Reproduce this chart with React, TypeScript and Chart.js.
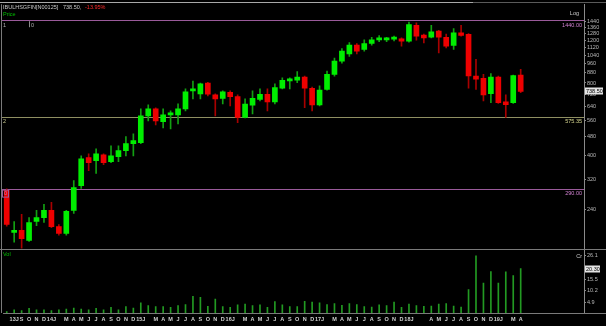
import React, { useEffect, useRef } from "react";
import { Chart, registerables } from "chart.js";

Chart.register(...registerables);

// Monthly candles, Jul 2013 .. Apr 2019
const monthLabels = [
  "", "13J", "S", "O", "N", "D",
  "14J", "", "M", "A", "M", "J", "J", "A", "S", "O", "N", "D",
  "15J", "", "M", "A", "M", "J", "J", "A", "S", "O", "N", "D",
  "16J", "", "M", "A", "M", "J", "J", "A", "S", "O", "N", "D",
  "17J", "", "M", "A", "M", "J", "J", "A", "S", "O", "N", "D",
  "18J", "", "", "A", "M", "J", "J", "A", "S", "O", "N", "D",
  "19J", "", "M", "A",
];
const emptySlots = 8;

const opens = [
  288, 193, 197, 179, 214, 222, 238, 204, 191, 238,
  301, 393, 382, 404, 378, 397, 420, 449, 453, 585,
  625, 553, 591, 591, 625, 742, 721, 800, 714, 690,
  732, 703, 576, 648, 685, 719, 668, 761, 816, 821,
  847, 761, 650, 752, 869, 985, 1056, 1147, 1102, 1165,
  1205, 1205, 1215, 1218, 1191, 1386, 1261, 1236, 1310, 1236,
  1144, 1289, 1270, 855, 837, 723, 847, 668, 664, 863,
];
const highs = [
  292, 214, 229, 222, 238, 252, 257, 208, 238, 316,
  400, 408, 428, 408, 440, 440, 480, 493, 625, 650,
  632, 625, 614, 656, 756, 815, 800, 805, 721, 742,
  742, 714, 688, 742, 756, 756, 793, 841, 841, 891,
  855, 770, 778, 897, 1014, 1110, 1175, 1165, 1205, 1236,
  1256, 1236, 1250, 1230, 1430, 1417, 1274, 1386, 1322, 1274,
  1344, 1386, 1280, 1002, 869, 874, 855, 714, 862, 911,
];
const lows = [
  205, 176, 166, 177, 206, 212, 202, 188, 188, 231,
  293, 347, 338, 368, 375, 378, 400, 400, 449, 558,
  537, 522, 517, 542, 614, 688, 688, 707, 585, 656,
  643, 549, 574, 596, 675, 614, 656, 756, 756, 802,
  633, 614, 643, 748, 854, 967, 1030, 1056, 1083, 1147,
  1185, 1185, 1195, 1136, 1180, 1202, 1172, 1229, 1066, 1118,
  1101, 1249, 761, 752, 675, 664, 658, 576, 658, 730,
];
const closes = [
  208, 197, 182, 212, 222, 238, 204, 191, 236, 296,
  389, 375, 408, 375, 400, 420, 449, 462, 585, 625,
  558, 591, 596, 625, 735, 756, 793, 720, 688, 735,
  703, 576, 654, 692, 719, 668, 765, 821, 826, 847,
  761, 650, 747, 869, 986, 1084, 1147, 1083, 1165, 1205,
  1225, 1215, 1225, 1191, 1396, 1249, 1229, 1301, 1236, 1136,
  1289, 1257, 855, 829, 714, 847, 664, 651, 858, 738.5,
];
const volumes = [
  0.6, 1.5, 1.1, 2.1, 1.5, 1.5, 1.1, 1.4, 1.8, 2.3,
  1.8, 1.5, 2.1, 1.5, 2.6, 1.5, 2.9, 2.3, 4.6, 3.4,
  2.9, 2.9, 2.6, 3.4, 3.8, 7.6, 7.2, 3.1, 6.4, 2.9,
  2.6, 3.7, 4.1, 3.4, 3.7, 2.6, 5.2, 3.7, 2.9, 2.9,
  5.3, 5.0, 4.6, 3.8, 4.3, 3.5, 4.3, 3.8, 2.9, 2.7,
  3.7, 3.4, 5.0, 2.6, 4.1, 3.4, 3.1, 3.2, 4.1, 4.3,
  3.2, 2.7, 10.7, 26.1, 13.7, 18.9, 13.7, 18.8, 17.1, 20.3,
];

const priceTicks = [1440, 1360, 1280, 1200, 1120, 1040, 960, 880, 800, 720, 640, 560, 480, 400, 320, 240];
const volumeTicks = [4.9, 10.2, 15.5, 26.1];
const levelHigh = 1440;
const levelMid = 575.35;
const levelLow = 290;
const lastClose = 738.5;
const lastVolume = 20.3;
const titleSymbol = "IBULHSGFIN[N00125]";
const titlePrice = "738.50,";
const titleChange = "-13.95%";

const FONT = '"Liberation Sans", Arial, sans-serif';
const AXIS_W = 22;

export default function App() {
  const ref = useRef<HTMLCanvasElement>(null);

  useEffect(() => {
    document.body.style.margin = "0";
    document.body.style.background = "#000";
    const canvas = ref.current!;
    const labels = [...monthLabels, ...Array(emptySlots).fill("")];
    const up = closes.map((c, i) => c >= opens[i]);

    const overlay = {
      id: "overlay",
      beforeDraw(chart: any) {
        const ctx = chart.ctx;
        ctx.save();
        ctx.fillStyle = "#000";
        ctx.fillRect(0, 0, chart.width, chart.height);
        ctx.restore();
      },
      beforeDatasetsDraw(chart: any) {
        const ctx = chart.ctx;
        const { right } = chart.chartArea;
        const ys = chart.scales.y;
        ctx.save();
        ctx.lineWidth = 1;
        const line = (v: number, color: string) => {
          const y = Math.round(ys.getPixelForValue(v)) - 0.5;
          ctx.strokeStyle = color;
          ctx.beginPath();
          ctx.moveTo(2, y);
          ctx.lineTo(right, y);
          ctx.stroke();
        };
        line(levelHigh, "#9a5a9a");
        line(levelMid, "#8f8f62");
        line(levelLow, "#9a5a9a");
        ctx.restore();
      },
      afterDraw(chart: any) {
        const ctx = chart.ctx;
        const { right, top, bottom } = chart.chartArea;
        const ys = chart.scales.y;
        const yv = chart.scales.yv;
        ctx.save();
        ctx.lineWidth = 1;
        // frame lines
        ctx.strokeStyle = "#5a5a5a";
        ctx.beginPath();
        ctx.moveTo(0, 2.5); ctx.lineTo(606, 2.5);
        ctx.stroke();
        ctx.strokeStyle = "#a8a8a8";
        ctx.beginPath();
        ctx.moveTo(0, 2.5); ctx.lineTo(473, 2.5);
        ctx.stroke();
        ctx.strokeStyle = "#7a7a7a";
        ctx.beginPath();
        ctx.moveTo(1.5, top); ctx.lineTo(1.5, bottom);
        ctx.stroke();
        const sep = Math.round(yv.top) - 0.5;
        ctx.beginPath();
        ctx.moveTo(0, sep); ctx.lineTo(606, sep);
        ctx.stroke();
        ctx.beginPath();
        ctx.moveTo(right, Math.round(bottom) + 0.5); ctx.lineTo(606, Math.round(bottom) + 0.5);
        ctx.stroke();

        // title
        ctx.textBaseline = "middle";
        ctx.textAlign = "left";
        ctx.font = `5.5px ${FONT}`;
        ctx.fillStyle = "#c8c8c8";
        ctx.fillText(titleSymbol, 3, 7);
        ctx.fillText(titlePrice, 63, 7);
        ctx.fillStyle = "#ff2a2a";
        ctx.fillText(titleChange, 85, 7);
        ctx.fillStyle = "#00c000";
        ctx.fillText("Price", 3, 14);
        ctx.fillText("Vol", 3, Math.round(yv.top) + 4);

        // level tags (left)
        const yHigh = ys.getPixelForValue(levelHigh);
        const yMid = ys.getPixelForValue(levelMid);
        const yLow = ys.getPixelForValue(levelLow);
        ctx.fillStyle = "#b0b0b0";
        ctx.fillText("1", 3, yHigh + 4);
        ctx.fillText("0", 31, yHigh + 4);
        ctx.strokeStyle = "#8a8a8a";
        ctx.beginPath();
        ctx.moveTo(29.5, yHigh); ctx.lineTo(29.5, yHigh + 6);
        ctx.stroke();
        ctx.fillStyle = "#c8c890";
        ctx.fillText("2", 3, yMid + 4);
        ctx.strokeStyle = "#9a5a9a";
        ctx.strokeRect(2.5, yLow + 0.5, 6, 7);
        ctx.fillStyle = "#c080c0";
        ctx.fillText("0", 4, yLow + 4);

        // level values (right)
        ctx.textAlign = "right";
        ctx.fillStyle = "#d080d0";
        ctx.fillText("1440.00", right - 2, yHigh + 4);
        ctx.fillText("290.00", right - 2, yLow + 4);
        ctx.fillStyle = "#d8d890";
        ctx.fillText("575.35", right - 2, yMid + 4);
        ctx.fillStyle = "#c8c8c8";
        ctx.fillText("Log", right - 5, 13);
        ctx.fillText("Cr", right - 2, Math.round(yv.top) + 6);

        // last value boxes
        const box = (y: number, text: string, w: number) => {
          ctx.fillStyle = "#e4e4e4";
          ctx.fillRect(right + 1, Math.round(y) - 3.5, w, 7);
          ctx.fillStyle = "#000";
          ctx.textAlign = "left";
          ctx.fillText(text, right + 2, Math.round(y));
        };
        box(ys.getPixelForValue(lastClose), "738.50", 18);
        box(yv.getPixelForValue(lastVolume), "20.30", 15);
        ctx.restore();
      },
    };

    const axisCommon = {
      position: "right" as const,
      stack: "panels",
      grid: { display: true, drawOnChartArea: false, drawTicks: true, tickLength: 2, color: "#8a8a8a" },
      border: { display: true, color: "#8a8a8a" },
      afterFit: (s: any) => { s.width = AXIS_W; },
    };

    const chart = new Chart(canvas, {
      type: "bar",
      data: {
        labels,
        datasets: [
          {
            label: "wick",
            data: lows.map((l, i) => [l, highs[i]]) as any,
            backgroundColor: up.map((u) => (u ? "#12a012" : "#a80000")),
            barThickness: 1,
            grouped: false,
            yAxisID: "y",
            order: 2,
          },
          {
            label: "body",
            data: opens.map((o, i) => [o, closes[i]]) as any,
            backgroundColor: up.map((u) => (u ? "#00ee00" : "#ee0000")),
            barThickness: 5,
            minBarLength: 2,
            grouped: false,
            yAxisID: "y",
            order: 1,
          },
          {
            label: "Vol",
            data: volumes,
            backgroundColor: "#229a22",
            barThickness: 1,
            grouped: false,
            yAxisID: "yv",
            order: 3,
          },
        ],
      },
      options: {
        responsive: false,
        animation: false,
        devicePixelRatio: 1,
        layout: { padding: { left: 3, top: 3, right: 0, bottom: 0 } },
        plugins: { legend: { display: false }, tooltip: { enabled: false } },
        scales: {
          x: {
            type: "category",
            offset: true,
            grid: { display: false, drawTicks: false },
            border: { display: true, color: "#7a7a7a" },
            ticks: {
              autoSkip: false,
              maxRotation: 0,
              minRotation: 0,
              color: "#cfcfcf",
              padding: 3,
              font: { size: 5.5, weight: "bold", family: FONT },
            },
            afterFit: (s: any) => { s.height = 13; },
          },
          y: {
            ...axisCommon,
            type: "logarithmic",
            stackWeight: 246.3,
            min: 163.9,
            max: 1691.8,
            ticks: {
              autoSkip: false,
              color: "#b8b8b8",
              padding: 1,
              font: { size: 5.5, family: FONT },
              callback: (v: any) => String(v),
            },
            afterBuildTicks: (s: any) => { s.ticks = priceTicks.map((v) => ({ value: v })); },
          },
          yv: {
            ...axisCommon,
            type: "linear",
            stackWeight: 63.7,
            min: 0,
            max: 29,
            ticks: {
              autoSkip: false,
              color: "#b8b8b8",
              padding: 1,
              font: { size: 5.5, family: FONT },
              callback: (v: any) => String(v),
            },
            afterBuildTicks: (s: any) => { s.ticks = volumeTicks.map((v) => ({ value: v })); },
          },
        },
      } as any,
      plugins: [overlay],
    });
    return () => chart.destroy();
  }, []);

  return <canvas ref={ref} width={606} height={326} style={{ display: "block" }} />;
}
